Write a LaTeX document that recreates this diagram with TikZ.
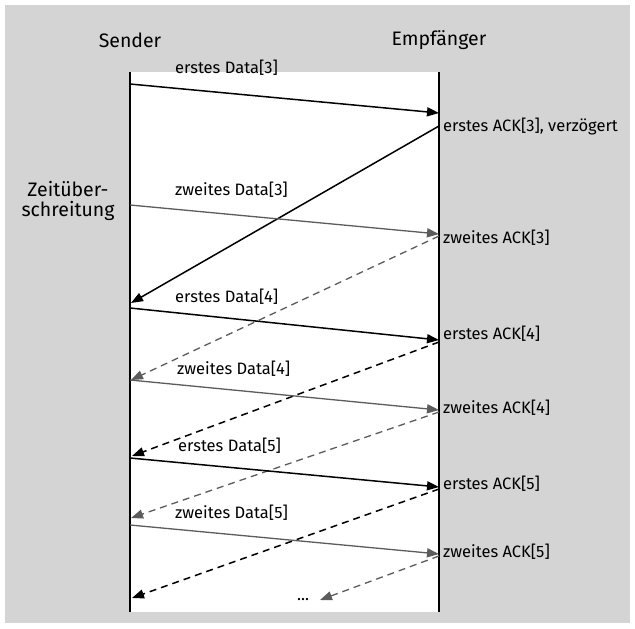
\documentclass[tikz,border=0pt]{standalone}
\usepackage{fontspec}
\setmainfont{Fira Sans}
\usetikzlibrary{arrows.meta}
\definecolor{bggray}{HTML}{D4D4D4}
\definecolor{msggray}{HTML}{5C5C5C}
\tikzset{
  lbl/.style={inner sep=0pt, font=\fontsize{16.5}{19}\selectfont, anchor=west},
  head/.style={inner sep=0pt, font=\fontsize{19.5}{22}\selectfont},
  blk/.style={draw=black, line width=1.5pt, -{Triangle[length=12pt,width=9pt]}},
  gry/.style={draw=msggray, line width=1.3pt, -{Triangle[length=12pt,width=9pt]}},
  blkd/.style={blk, dash pattern=on 7pt off 5pt},
  gryd/.style={gry, dash pattern=on 7pt off 5pt},
}
\begin{document}
\begin{tikzpicture}[x=1pt,y=-1pt]
\useasboundingbox (0,0) rectangle (635,629);
\fill[bggray] (5,5) rectangle (630,623);
\fill[white] (130,72) rectangle (439,612);
\coordinate (st) at (130,72); \coordinate (sb) at (130,612);
\coordinate (et) at (439,72); \coordinate (eb) at (439,612);
\draw[line width=1.1pt] (st) -- (sb);
\draw[line width=1.1pt] (et) -- (eb);
\node[head] (sender) at (130,40) {Sender};
\node[head] (empf) at (439,40) {Empfänger};
\node[head, align=center] (zeit) at (68,201) {Zeitüber-\\[-2pt]schreitung};
% end points on the lifelines
\coordinate (d3a) at (130,84);  \coordinate (d3ae) at (439,113);
\coordinate (a3a) at (439,126); \coordinate (a3ae) at (131,303);
\coordinate (d3b) at (130,205); \coordinate (d3be) at (439,234);
\coordinate (a3b) at (439,236); \coordinate (a3be) at (131,380);
\coordinate (d4a) at (130,308); \coordinate (d4ae) at (439,340);
\coordinate (a4a) at (439,342); \coordinate (a4ae) at (132,456);
\coordinate (d4b) at (130,380); \coordinate (d4be) at (439,410);
\coordinate (a4b) at (439,412); \coordinate (a4be) at (131,518);
\coordinate (d5a) at (130,458); \coordinate (d5ae) at (439,487);
\coordinate (a5a) at (439,489); \coordinate (a5ae) at (132,598);
\coordinate (d5b) at (130,525); \coordinate (d5be) at (439,554);
\coordinate (a5b) at (439,556); \coordinate (a5be) at (320,600);
% messages
\draw[blk] (d3a) -- (d3ae);
\draw[blk] (a3a) -- (a3ae);
\draw[gry] (d3b) -- (d3be);
\draw[gryd] (a3b) -- (a3be);
\draw[blk] (d4a) -- (d4ae);
\draw[blkd] (a4a) -- (a4ae);
\draw[gry] (d4b) -- (d4be);
\draw[gryd] (a4b) -- (a4be);
\draw[blk] (d5a) -- (d5ae);
\draw[blkd] (a5a) -- (a5ae);
\draw[gry] (d5b) -- (d5be);
\draw[gryd] (a5b) -- (a5be);
% labels
\node[lbl] (l1) at (175,68) {erstes Data[3]};
\node[lbl] (l2) at (443,127) {erstes ACK[3], verzögert};
\node[lbl] (l3) at (175,190) {zweites Data[3]};
\node[lbl] (l4) at (443,238) {zweites ACK[3]};
\node[lbl] (l5) at (175,297) {erstes Data[4]};
\node[lbl] (l6) at (443,334) {erstes ACK[4]};
\node[lbl] (l7) at (177,369) {zweites Data[4]};
\node[lbl] (l8) at (443,408) {zweites ACK[4]};
\node[lbl] (l9) at (178,446) {erstes Data[5]};
\node[lbl] (l10) at (443,484) {erstes ACK[5]};
\node[lbl] (l11) at (175,513) {zweites Data[5]};
\node[lbl] (l12) at (443,552) {zweites ACK[5]};
\node[lbl] (dots) at (297,600) {...};
\end{tikzpicture}
\end{document}
